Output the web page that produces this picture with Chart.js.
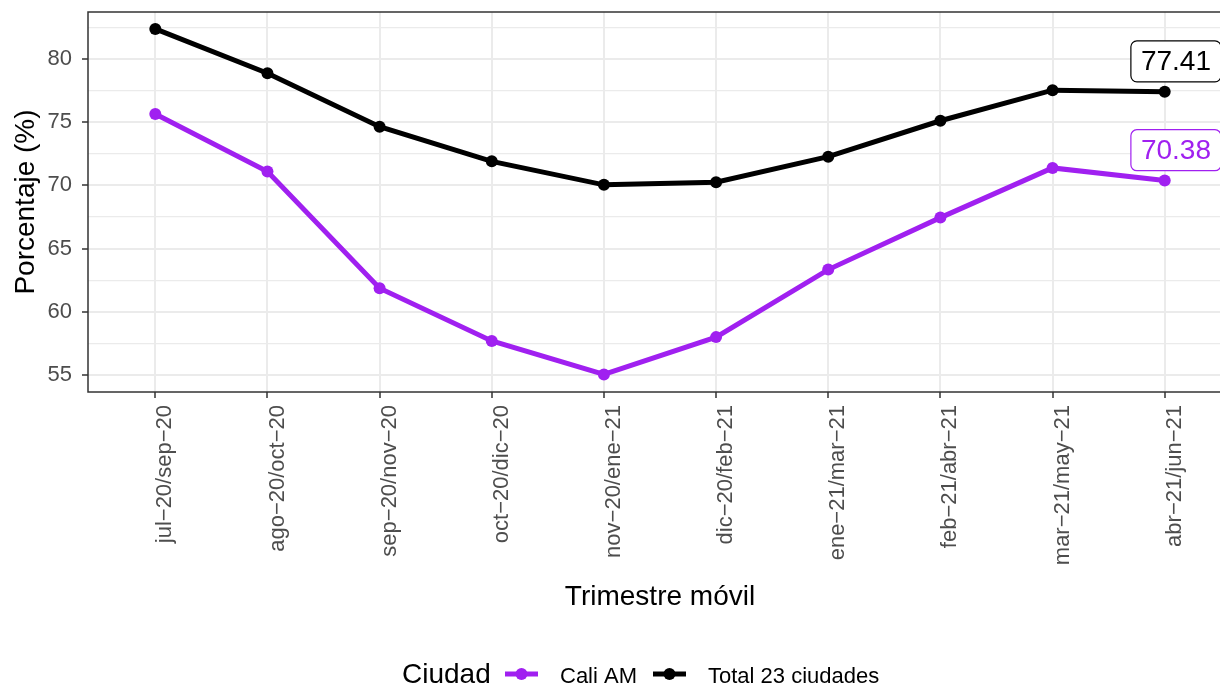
<!DOCTYPE html>
<html>
<head>
<meta charset="utf-8">
<script src="https://cdn.jsdelivr.net/npm/chart.js@4/dist/chart.umd.min.js"></script>
<style>
  html, body { margin: 0; padding: 0; background: #fff; overflow: hidden; }
  #wrap { position: relative; width: 1238px; height: 695px; }
</style>
</head>
<body>
<div id="wrap"><canvas id="c" width="1238" height="695"></canvas></div>
<script>
const categories = ['jul\u221220/sep\u221220', 'ago\u221220/oct\u221220', 'sep\u221220/nov\u221220', 'oct\u221220/dic\u221220', 'nov\u221220/ene\u221221', 'dic\u221220/feb\u221221', 'ene\u221221/mar\u221221', 'feb\u221221/abr\u221221', 'mar\u221221/may\u221221', 'abr\u221221/jun\u221221'];
const caliValues = [75.64, 71.09, 61.87, 57.70, 55.05, 58.00, 63.34, 67.45, 71.38, 70.38];
const totalValues = [82.37, 78.87, 74.64, 71.90, 70.04, 70.25, 72.27, 75.11, 77.53, 77.41];
const seriesNames = ['Cali AM', 'Total 23 ciudades'];
const seriesColors = ['#A020F0', '#000000'];
const yMajorTicks = [55, 60, 65, 70, 75, 80];
const yMinorTicks = [57.5, 62.5, 67.5, 72.5, 77.5, 82.5];
const legendTitle = 'Ciudad';
const xTitle = 'Trimestre m\u00f3vil';
const yTitle = 'Porcentaje (%)';

const FONT = "'Liberation Sans', Arial, sans-serif";
const seriesValues = [caliValues, totalValues];

const datasets = seriesValues.map((vals, s) => ({
  label: seriesNames[s],
  data: vals.map((v, i) => ({ x: i, y: v })),
  borderColor: seriesColors[s],
  backgroundColor: seriesColors[s],
  borderWidth: 5,
  pointRadius: 6,
  pointHoverRadius: 6,
  pointBorderWidth: 0,
  tension: 0,
  clip: false
}));

const overlay = {
  id: 'overlay',
  afterDraw(chart) {
    const ctx = chart.ctx;
    const a = chart.chartArea;
    const xs = chart.scales.x, ys = chart.scales.y;
    ctx.save();
    // panel border
    ctx.strokeStyle = '#333333';
    ctx.lineWidth = 1.5;
    ctx.strokeRect(a.left, a.top, a.right - a.left, a.bottom - a.top);
    // end labels
    ctx.font = '28px ' + FONT;
    ctx.textAlign = 'center';
    ctx.textBaseline = 'middle';
    seriesValues.forEach((vals, s) => {
      const last = vals.length - 1;
      const v = vals[last];
      const txt = v.toFixed(2);
      const cx = xs.getPixelForValue(last + 0.1);
      const cy = ys.getPixelForValue(v + 2.4);
      const w = ctx.measureText(txt).width + 20;
      const h = 41;
      const x0 = cx - w / 2, y0 = cy - h / 2, r = 6;
      ctx.beginPath();
      ctx.moveTo(x0 + r, y0);
      ctx.arcTo(x0 + w, y0, x0 + w, y0 + h, r);
      ctx.arcTo(x0 + w, y0 + h, x0, y0 + h, r);
      ctx.arcTo(x0, y0 + h, x0, y0, r);
      ctx.arcTo(x0, y0, x0 + w, y0, r);
      ctx.closePath();
      ctx.fillStyle = '#ffffff';
      ctx.fill();
      ctx.strokeStyle = seriesColors[s];
      ctx.lineWidth = 1.2;
      ctx.stroke();
      ctx.fillStyle = seriesColors[s];
      ctx.fillText(txt, cx, cy + 1);
    });
    // legend
    ctx.textAlign = 'left';
    ctx.textBaseline = 'alphabetic';
    ctx.fillStyle = '#000';
    ctx.font = '28px ' + FONT;
    ctx.fillText(legendTitle, 402, 683);
    const swatchX = [505, 653];
    const textX = [560, 708];
    seriesNames.forEach((name, s) => {
      ctx.strokeStyle = seriesColors[s];
      ctx.fillStyle = seriesColors[s];
      ctx.lineWidth = 5;
      ctx.beginPath();
      ctx.moveTo(swatchX[s], 674);
      ctx.lineTo(swatchX[s] + 33, 674);
      ctx.stroke();
      ctx.beginPath();
      ctx.arc(swatchX[s] + 16.5, 674, 6, 0, Math.PI * 2);
      ctx.fill();
      ctx.fillStyle = '#000';
      ctx.font = '22px ' + FONT;
      ctx.fillText(name, textX[s], 683);
    });
    ctx.restore();
  }
};

new Chart(document.getElementById('c'), {
  type: 'line',
  data: { datasets },
  options: {
    responsive: false,
    animation: false,
    devicePixelRatio: 1,
    layout: { padding: { top: 12, left: 0, right: 0, bottom: 0 } },
    plugins: {
      legend: { display: false },
      tooltip: { enabled: false }
    },
    scales: {
      x: {
        type: 'linear',
        min: -0.6,
        max: 9.6,
        afterBuildTicks: (scale) => { scale.ticks = categories.map((c, i) => ({ value: i })); },
        afterFit: (scale) => { scale.height = 303; scale.paddingLeft = 0; scale.paddingRight = 0; },
        grid: { color: '#ebebeb', lineWidth: 2, tickLength: 6, tickColor: '#333333', tickWidth: 1.5 },
        border: { display: false },
        ticks: {
          autoSkip: false,
          maxRotation: 90,
          minRotation: 90,
          padding: 7,
          labelOffset: 10,
          color: '#4d4d4d',
          font: { family: FONT, size: 22 },
          callback: (v) => categories[v] ?? ''
        },
        title: {
          display: true,
          text: xTitle,
          color: '#000',
          font: { family: FONT, size: 28 },
          padding: { top: 0, bottom: 81 }
        }
      },
      y: {
        type: 'linear',
        min: 53.66,
        max: 83.71,
        afterBuildTicks: (scale) => {
          scale.ticks = yMajorTicks.concat(yMinorTicks).sort((a, b) => a - b).map(v => ({ value: v }));
        },
        afterFit: (scale) => { scale.width = 88; scale.paddingTop = 0; scale.paddingBottom = 0; },
        grid: {
          color: '#ebebeb',
          lineWidth: (c) => (c.tick && c.tick.value % 5 === 0) ? 2 : 1.3,
          tickLength: 6,
          tickColor: (c) => (c.tick && c.tick.value % 5 === 0) ? '#333333' : 'rgba(0,0,0,0)',
          tickWidth: 1.5
        },
        border: { display: false },
        ticks: {
          padding: 10,
          color: '#4d4d4d',
          font: { family: FONT, size: 22 },
          callback: (v) => (v % 5 === 0) ? String(v) : ''
        },
        title: {
          display: true,
          text: yTitle,
          color: '#000',
          font: { family: FONT, size: 28 },
          padding: { top: 9, bottom: 0 }
        }
      }
    }
  },
  plugins: [overlay]
});
</script>
</body>
</html>
